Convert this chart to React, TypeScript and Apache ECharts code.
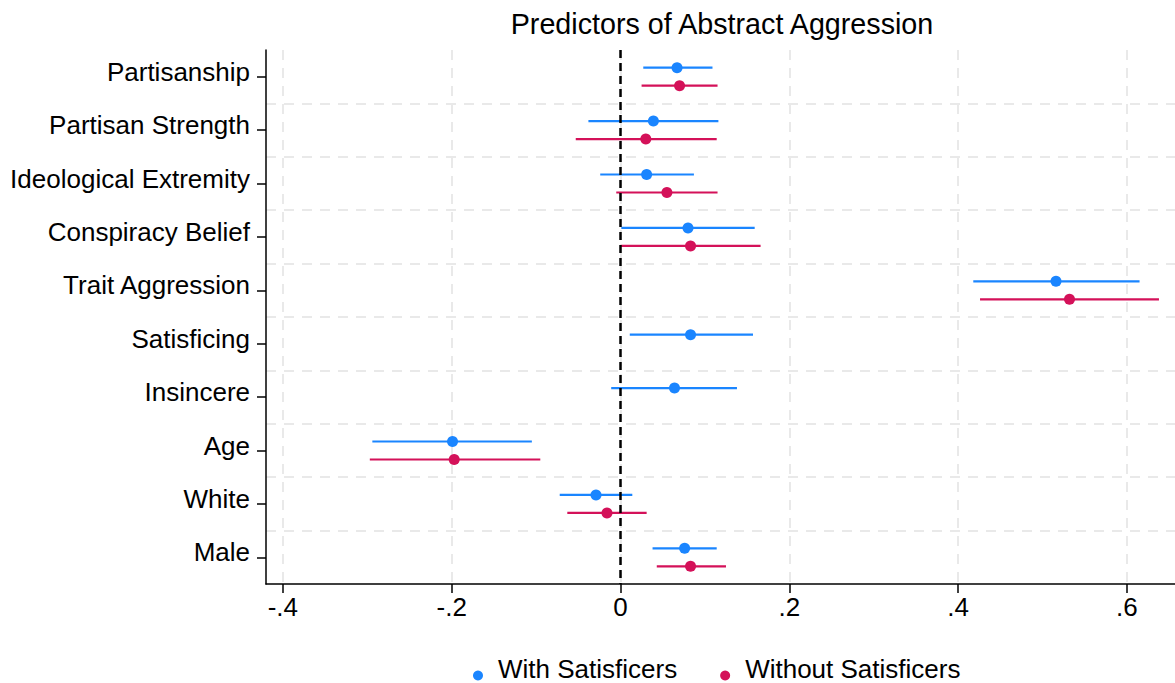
import React, { useEffect, useRef } from "react";
import * as echarts from "echarts";

const categories = [
  "Partisanship",
  "Partisan Strength",
  "Ideological Extremity",
  "Conspiracy Belief",
  "Trait Aggression",
  "Satisficing",
  "Insincere",
  "Age",
  "White",
  "Male",
];
const xTicks = [-0.4, -0.2, 0, 0.2, 0.4, 0.6];

const withEst = [0.067, 0.039, 0.031, 0.08, 0.516, 0.083, 0.064, -0.199, -0.029, 0.076];
const withLo = [0.027, -0.038, -0.024, 0.001, 0.418, 0.011, -0.011, -0.294, -0.072, 0.038];
const withHi = [0.109, 0.116, 0.087, 0.159, 0.615, 0.157, 0.138, -0.105, 0.014, 0.114];

const withoutEst = [0.07, 0.03, 0.055, 0.083, 0.532, null, null, -0.197, -0.016, 0.083];
const withoutLo = [0.025, -0.053, -0.005, 0.0, 0.426, null, null, -0.297, -0.063, 0.043];
const withoutHi = [0.115, 0.114, 0.115, 0.166, 0.638, null, null, -0.095, 0.031, 0.125];

const BLUE = "#1a85ff";
const RED = "#d41159";
const FONT = "Liberation Sans, Arial, sans-serif";

function buildData(est: (number | null)[], lo: (number | null)[], hi: (number | null)[]) {
  const out: number[][] = [];
  est.forEach((e, i) => {
    if (e === null || lo[i] === null || hi[i] === null) return;
    out.push([i, e as number, lo[i] as number, hi[i] as number]);
  });
  return out;
}

function makeRender(color: string, offset: number) {
  return (params: any, api: any) => {
    const idx = api.value(0);
    const p = api.coord([api.value(1), idx]);
    const l = api.coord([api.value(2), idx]);
    const h = api.coord([api.value(3), idx]);
    const y = p[1] + offset;
    return {
      type: "group",
      children: [
        {
          type: "line",
          shape: { x1: l[0], y1: y, x2: h[0], y2: y },
          style: { stroke: color, lineWidth: 2.2 },
        },
        {
          type: "circle",
          shape: { cx: p[0], cy: y, r: 5.5 },
          style: { fill: color },
        },
      ],
    };
  };
}

function fmt(v: number) {
  if (Math.abs(v) < 1e-9) return "0";
  const s = String(Math.round(Math.abs(v) * 10) / 10).replace(/^0/, "");
  return (v < 0 ? "-" : "") + s;
}

export default function App() {
  const ref = useRef<HTMLDivElement>(null);
  useEffect(() => {
    if (!ref.current) return;
    const chart = echarts.init(ref.current, undefined, { renderer: "svg" });
    const splitColors = ["rgba(0,0,0,0)"]
      .concat(Array(9).fill("#e9e9e9"))
      .concat(["rgba(0,0,0,0)"]);
    chart.setOption({
      animation: false,
      backgroundColor: "#ffffff",
      title: {
        text: "Predictors of Abstract Aggression",
        left: 717,
        top: 4,
        textAlign: "center",
        textStyle: { fontSize: 28.7, fontWeight: "normal", color: "#000", fontFamily: FONT },
      },
      legend: {
        top: 651,
        left: 468,
        itemWidth: 30,
        itemHeight: 10,
        itemGap: 43,
        data: [
          { name: "With Satisficers", icon: "circle" },
          { name: "Without Satisficers", icon: "circle" },
        ],
        formatter: (name: string) => `{t|${name}}`,
        textStyle: {
          fontSize: 26,
          color: "#000",
          fontFamily: FONT,
          rich: {
            t: { fontSize: 26, color: "#000", fontFamily: FONT, padding: [0, 0, 13, 0] },
          },
        },
      },
      grid: { left: 266, right: 0, top: 50, bottom: 99 },
      xAxis: {
        type: "value",
        min: -0.42,
        max: 0.657,
        axisLine: { show: true, lineStyle: { color: "#000", width: 1.5 } },
        axisTick: { show: true, length: 9, customValues: xTicks, lineStyle: { color: "#000", width: 1.5 } },
        axisLabel: {
          customValues: xTicks,
          formatter: (v: number) => fmt(v),
          fontSize: 26,
          color: "#000",
          fontFamily: FONT,
          margin: 10,
        },
        splitLine: { show: true, lineStyle: { color: "#e9e9e9", width: 2, type: [10, 8] } },
      },
      yAxis: {
        type: "category",
        data: categories,
        inverse: true,
        axisLine: { show: true, onZero: false, lineStyle: { color: "#000", width: 1.5 } },
        axisTick: { show: true, alignWithLabel: true, length: 9, lineStyle: { color: "#000", width: 1.5 } },
        axisLabel: {
          interval: 0,
          fontSize: 26,
          color: "#000",
          fontFamily: FONT,
          margin: 16,
          verticalAlign: "bottom",
          lineHeight: 10,
        },
        splitLine: {
          show: true,
          interval: 0,
          lineStyle: { color: splitColors, width: 2, type: [10, 8] },
        },
      },
      series: [
        {
          name: "With Satisficers",
          type: "custom",
          renderItem: makeRender(BLUE, -9),
          itemStyle: { color: BLUE },
          encode: { x: [1, 2, 3], y: 0 },
          data: buildData(withEst, withLo, withHi),
          z: 3,
          markLine: {
            silent: true,
            symbol: ["none", "none"],
            label: { show: false },
            lineStyle: { color: "#000", width: 2.5, type: [8, 5] },
            data: [{ xAxis: 0 }],
            z: 10,
          },
        },
        {
          name: "Without Satisficers",
          type: "custom",
          renderItem: makeRender(RED, 9),
          itemStyle: { color: RED },
          encode: { x: [1, 2, 3], y: 0 },
          data: buildData(withoutEst, withoutLo, withoutHi),
          z: 3,
        },
      ],
    });
    return () => chart.dispose();
  }, []);
  return (
    <div
      ref={ref}
      style={{ position: "fixed", left: 0, top: 0, width: 1175, height: 683, background: "#fff" }}
    />
  );
}
